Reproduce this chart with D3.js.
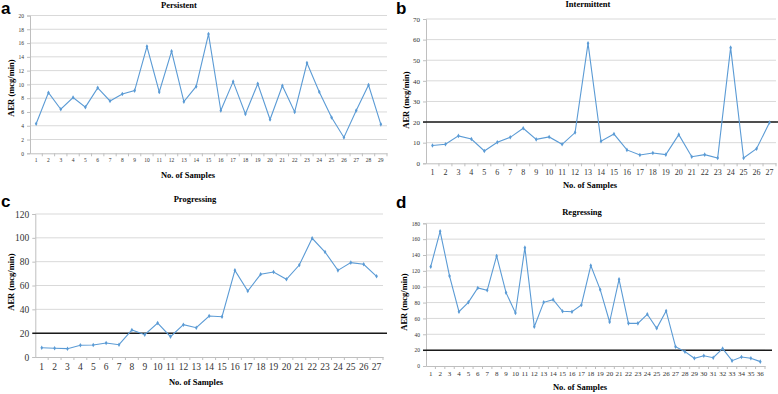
<!DOCTYPE html>
<html><head><meta charset="utf-8">
<script src="https://cdn.jsdelivr.net/npm/d3@7"></script>
<style>body{margin:0;background:#fff}svg{display:block}</style>
</head><body>
<svg id="c" width="778" height="394"></svg>
<script>
// ---- DATA ----
const catsA = ["1","2","3","4","5","6","7","8","9","10","11","12","13","14","15","16","17","18","19","20","21","22","23","24","25","26","27","28","29"];
const valsA = [4.3,8.8,6.4,8.1,6.7,9.5,7.6,8.6,9.1,15.5,8.9,14.8,7.5,9.7,17.3,6.2,10.4,5.7,10.1,4.9,9.8,6.0,13.1,8.9,5.2,2.3,6.2,9.9,4.2];
const ticksA = [0,2,4,6,8,10,12,14,16,18,20];

const catsB = ["1","2","3","4","5","6","7","8","9","10","11","12","13","14","15","16","17","18","19","20","21","22","23","24","25","26","27"];
const valsB = [8.6,9.2,13.3,11.8,6.0,10.2,12.6,17.0,11.6,12.8,9.2,14.9,58.2,10.7,14.2,6.5,4.0,5.0,4.2,13.9,3.2,4.2,2.6,56.1,2.6,7.1,19.8];
const ticksB = [0,10,20,30,40,50,60,70];

const catsC = ["1","2","3","4","5","6","7","8","9","10","11","12","13","14","15","16","17","18","19","20","21","22","23","24","25","26","27"];
const valsC = [7.8,7.3,7.0,9.8,10.1,11.7,10.3,22.7,18.7,28.5,17.1,27.1,24.6,34.4,33.8,72.7,55.4,69.4,71.3,65.2,77.2,99.6,88.1,72.7,79.2,77.8,67.7];
const ticksC = [0,20,40,60,80,100,120];

const catsD = ["1","2","3","4","5","6","7","8","9","10","11","12","13","14","15","16","17","18","19","20","21","22","23","24","25","26","27","28","29","30","31","32","33","34","35","36"];
const valsD = [125.3,169.9,113.5,68.5,80.3,98.4,95.5,138.8,92.5,66.9,149.3,49.6,80.3,83.7,69.0,68.5,77.0,126.6,96.3,55.5,109.3,53.8,53.8,65.2,47.5,69.4,24.4,18.1,9.7,13.0,10.5,21.9,6.7,11.4,9.7,5.5];
const ticksD = [0,20,40,60,80,100,120,140,160,180];

const threshold = 20;
const yLabel = "AER (mcg/min)";
const xLabel = "No. of Samples";

// ---- DRAW ----
const svg = d3.select("#c");
const serif = "'Liberation Serif','Times New Roman',serif";
const lineColor = "#5b9bd5";

function panel(o){
  const g = svg.append("g");
  const x = d3.scaleBand().domain(o.cats).range([o.x0, o.x1]);
  const y = d3.scaleLinear().domain([o.ticks[0], o.ticks[o.ticks.length-1]]).range([o.y0, o.y1]);
  // gridlines
  g.selectAll("line.grid").data(o.ticks.slice(1)).join("line")
    .attr("x1", o.x0).attr("x2", o.x1)
    .attr("y1", d => y(d)).attr("y2", d => y(d))
    .attr("stroke", "#d9d9d9").attr("stroke-width", 1);
  // left axis
  const ya = g.append("g").attr("transform", `translate(${o.x0},0)`)
    .call(d3.axisLeft(y).tickValues(o.ticks).tickSize(3).tickPadding(o.yPad));
  ya.select(".domain").attr("stroke", "#bfbfbf");
  ya.selectAll(".tick line").attr("stroke", "#bfbfbf");
  ya.selectAll("text").attr("font-family", serif).attr("font-size", o.yFs).attr("fill", "#333");
  // bottom axis
  const xa = g.append("g").attr("transform", `translate(0,${o.y0})`)
    .call(d3.axisBottom(x).tickSize(0).tickPadding(o.xPad));
  xa.select(".domain").attr("stroke", "#bfbfbf");
  xa.selectAll("text").attr("font-family", serif).attr("font-size", o.xFs).attr("fill", "#333");
  g.selectAll("line.xt").data(o.cats.slice(1)).join("line")
    .attr("x1", d => x(d)).attr("x2", d => x(d))
    .attr("y1", o.y0).attr("y2", o.y0 + 3)
    .attr("stroke", "#bfbfbf");
  g.append("line").attr("x1", o.x1).attr("x2", o.x1).attr("y1", o.y0).attr("y2", o.y0 + 3).attr("stroke", "#bfbfbf");
  // threshold
  if (o.thr) {
    g.append("line").attr("x1", o.x0 - 3).attr("x2", o.x1 + o.thrExt)
      .attr("y1", y(threshold)).attr("y2", y(threshold))
      .attr("stroke", "#1a1a1a").attr("stroke-width", 1.5);
  }
  // series
  const cx = d => x(d) + x.bandwidth()/2;
  const pts = o.cats.map((c,i) => [cx(c), y(o.vals[i])]);
  g.append("path").attr("d", d3.line()(pts)).attr("fill", "none")
    .attr("stroke", lineColor).attr("stroke-width", 1.1);
  g.selectAll("path.m").data(pts).join("path")
    .attr("transform", d => `translate(${d[0]},${d[1]})`)
    .attr("d", d3.symbol(d3.symbolDiamond, 6)())
    .attr("fill", lineColor);
  // texts
  g.append("text").attr("x", o.tx).attr("y", o.ty).attr("text-anchor", "middle")
    .attr("font-family", serif).attr("font-weight", "bold").attr("font-size", o.tFs).text(o.title);
  g.append("text").attr("x", o.xlx).attr("y", o.xly).attr("text-anchor", "middle")
    .attr("font-family", serif).attr("font-weight", "bold").attr("font-size", o.lFs).text(xLabel);
  g.append("text").attr("transform", `translate(${o.ylx},${o.yly}) rotate(-90)`).attr("text-anchor", "middle")
    .attr("font-family", serif).attr("font-weight", "bold").attr("font-size", o.lFs).text(yLabel);
  g.append("text").attr("x", o.lx).attr("y", o.ly)
    .attr("font-family", "'Liberation Sans',Arial,sans-serif").attr("font-weight", "bold").attr("font-size", 17).text(o.letter);
}

panel({cats: catsA, vals: valsA, ticks: ticksA, x0: 30, x1: 387, y0: 153.3, y1: 15.5,
  yFs: 5.5, xFs: 5.5, yPad: 3, xPad: 5, thr: false,
  title: "Persistent", tx: 179, ty: 8, tFs: 8.5, xlx: 188, xly: 178, lFs: 8.5, ylx: 14, yly: 88,
  letter: "a", lx: 1, ly: 14});
panel({cats: catsB, vals: valsB, ticks: ticksB, x0: 426, x1: 776, y0: 163.3, y1: 19,
  yFs: 7, xFs: 8, yPad: 3, xPad: 6, thr: true, thrExt: 3,
  title: "Intermittent", tx: 588, ty: 7, tFs: 8.5, xlx: 590, xly: 188, lFs: 8.5, ylx: 409, yly: 100,
  letter: "b", lx: 396, ly: 14});
panel({cats: catsC, vals: valsC, ticks: ticksC, x0: 35.3, x1: 383, y0: 357, y1: 214,
  yFs: 9.5, xFs: 9.5, yPad: 3, xPad: 6, thr: true, thrExt: 4,
  title: "Progressing", tx: 195, ty: 202, tFs: 8.5, xlx: 196, xly: 385, lFs: 8.5, ylx: 14, yly: 282,
  letter: "c", lx: 1, ly: 207});
panel({cats: catsD, vals: valsD, ticks: ticksD, x0: 426, x1: 765, y0: 366, y1: 223.3,
  yFs: 5.5, xFs: 7, yPad: 3, xPad: 5, thr: true, thrExt: 7,
  title: "Regressing", tx: 582, ty: 215, tFs: 8.5, xlx: 580, xly: 390, lFs: 8.5, ylx: 407, yly: 302,
  letter: "d", lx: 396, ly: 208});
</script>
</body></html>
